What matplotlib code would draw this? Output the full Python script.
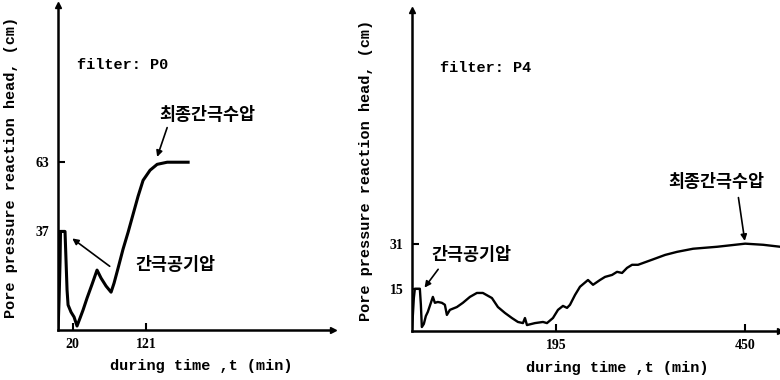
import matplotlib.pyplot as plt

plt.rcParams['font.family'] = ['Liberation Mono', 'Noto Sans CJK KR', 'DejaVu Sans']

# filter P0: elapsed time (min) and pore pressure head (cm)
p0_time = [0, 1.4, 2.8, 3.4, 9.6, 11, 12.4, 13.8, 17.9, 22, 26.1, 30.3, 34.4, 39.9,
           46.8, 53.6, 59.1, 66, 72.9, 77, 82.5, 89.4, 96.3, 103.2, 110, 116.9,
           126.5, 136.2, 150, 178.8]
p0_head = [0, 11, 26, 37, 37, 26, 15, 9.4, 6.7, 4.9, 1.5, 4.5, 7.5, 12, 17.2, 22.5,
           19.5, 16.5, 14.2, 17.6, 23.2, 30.4, 36.7, 43.5, 50.2, 56.2, 60, 62.2, 63, 63]

# filter P4
p4_time = [0, 1.4, 2.7, 4.1, 10.8, 12.2, 13.5, 16.2, 18.9, 21.6, 25.7, 28.4, 31.1,
           35.1, 40.5, 44.6, 47.3, 51.4, 60.8, 68.9, 78.4, 87.8, 95.9, 108.1, 116.2,
           125.7, 135.1, 143.2, 150, 152.7, 155.4, 166.2, 177, 182.4, 190.5, 197.3,
           204, 209.5, 213.5, 220.3, 227, 237.8, 244.6, 254, 260.8, 270.3, 277,
           283.8, 290.5, 297.3, 305.4, 324.3, 341.9, 358.1, 379.7, 412.2, 450,
           474.3, 497.3]
p4_head = [0, 5.7, 11.7, 15, 15, 9.3, 1.4, 2.5, 5.3, 6.8, 10, 12.1, 10, 10.3, 10,
           9.3, 5.7, 7.5, 8.5, 10, 12.1, 13.5, 13.5, 11.7, 8.5, 6.4, 4.6, 3.2, 2.8,
           4.6, 2.1, 2.8, 3.2, 2.8, 4.6, 7.5, 8.9, 8.2, 9.3, 12.8, 15.7, 18.1, 16.4,
           18.1, 19.2, 19.9, 21, 20.6, 22.4, 23.5, 23.5, 25.3, 27, 28.1, 29.2, 29.9,
           31, 30.6, 29.9]

p0_xticks = [20, 121]
p0_yticks = [37, 63]
p4_xticks = [195, 450]
p4_yticks = [15, 31]

ylabel = 'Pore pressure reaction head, (cm)'
xlabel = 'during time ,t (min)'
air_label = '간극공기압'
final_label = '최종간극수압'

fig = plt.figure(figsize=(7.8, 3.8), dpi=100)
ax1 = fig.add_axes([0.0744, 0.1316, 0.3526, 0.855])
ax2 = fig.add_axes([0.528, 0.129, 0.472, 0.845])

kor = ['Noto Sans CJK KR', 'DejaVu Sans']


def style_axes(ax, xmax, ymax, xticks, yticks):
    ax.set_xlim(0, xmax)
    ax.set_ylim(0, ymax)
    for side in ['top', 'right']:
        ax.spines[side].set_visible(False)
    for side in ['left', 'bottom']:
        ax.spines[side].set_linewidth(1.8)
    ax.set_xticks(xticks)
    ax.set_yticks(yticks)
    ax.tick_params(direction='in', length=5, width=1.5, pad=6)
    for lab in ax.get_xticklabels() + ax.get_yticklabels():
        lab.set_family('Liberation Serif')
        lab.set_fontweight('bold')
        lab.set_fontsize(10)
    # arrow heads on the axis ends
    ax.plot(0, 1, '^k', markersize=5, transform=ax.transAxes, clip_on=False)
    ax.plot(1, 0, '>k', markersize=5, transform=ax.transAxes, clip_on=False)
    ax.set_ylabel(ylabel, fontsize=11, fontweight='bold')
    ax.set_xlabel(xlabel, fontsize=11, fontweight='bold')


style_axes(ax1, 378, 122, p0_xticks, p0_yticks)
style_axes(ax2, 497, 114, p4_xticks, p4_yticks)
ax1.yaxis.set_label_coords(-0.145, 0.5)
ax2.yaxis.set_label_coords(-0.106, 0.5)
ax1.xaxis.set_label_coords(0.52, -0.09)
ax2.xaxis.set_label_coords(0.557, -0.093)

ax1.plot(p0_time, p0_head, color='black', linewidth=2.2, solid_joinstyle='round')
ax2.plot(p4_time, p4_head, color='black', linewidth=1.7, solid_joinstyle='round')

arrow = dict(arrowstyle='-|>', color='black', linewidth=1.2, mutation_scale=9)

# left panel labels
ax1.text(0.069, 0.815, 'filter: P0', transform=ax1.transAxes, fontsize=11,
         fontweight='bold', va='center')
ax1.text(0.367, 0.662, final_label, transform=ax1.transAxes, fontsize=12.5,
         family=kor, fontweight='bold', va='center')
ax1.text(0.28, 0.2, air_label, transform=ax1.transAxes, fontsize=12.5,
         family=kor, fontweight='bold', va='center')
ax1.annotate('', xy=(135, 64), xytext=(0.4, 0.631), textcoords='axes fraction',
             arrowprops=arrow)
ax1.annotate('', xy=(16.5, 35), xytext=(0.196, 0.191), textcoords='axes fraction',
             arrowprops=arrow)

# right panel labels
ax2.text(0.076, 0.819, 'filter: P4', transform=ax2.transAxes, fontsize=11,
         fontweight='bold', va='center')
ax2.text(0.696, 0.464, final_label, transform=ax2.transAxes, fontsize=12.5,
         family=kor, fontweight='bold', va='center')
ax2.text(0.054, 0.237, air_label, transform=ax2.transAxes, fontsize=12.5,
         family=kor, fontweight='bold', va='center')
ax2.annotate('', xy=(14.9, 14.6), xytext=(0.076, 0.199), textcoords='axes fraction',
             arrowprops=arrow)
ax2.annotate('', xy=(450, 31), xytext=(0.886, 0.424), textcoords='axes fraction',
             arrowprops=arrow)

fig.savefig('out.png', dpi=100)
